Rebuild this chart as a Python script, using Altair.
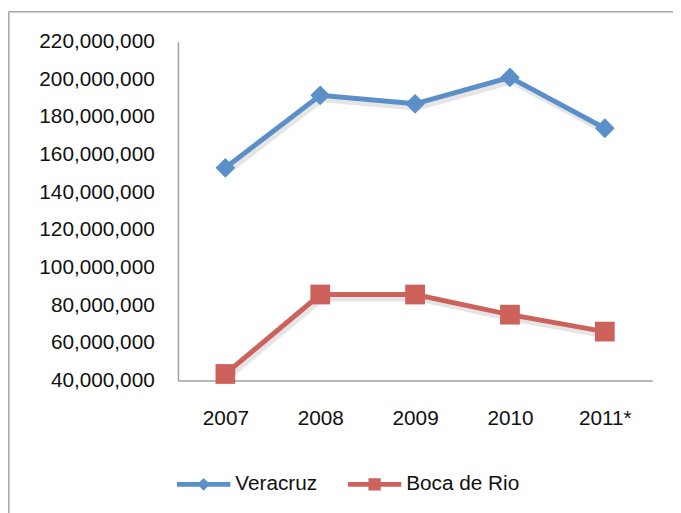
import altair as alt
import pandas as pd

years = ["2007", "2008", "2009", "2010", "2011*"]
veracruz = [153000000, 191500000, 187000000, 201000000, 174000000]
boca = [43500000, 85700000, 85700000, 75000000, 66000000]
series = ["Veracruz", "Boca de Rio"]
colors = ["#5b8fc8", "#cd625c"]
point_shapes = ["diamond", "square"]
legend_paths = [
    "M-1,-0.09L1,-0.09L1,0.09L-1,0.09Z M0,-0.24L0.24,0L0,0.24L-0.24,0Z",
    "M-1,-0.09L1,-0.09L1,0.09L-1,0.09Z M-0.23,-0.23L0.23,-0.23L0.23,0.23L-0.23,0.23Z",
]
y_ticks = [40000000 + 20000000 * i for i in range(10)]

rows = []
for name, vals in zip(series, [veracruz, boca]):
    for yr, v in zip(years, vals):
        rows.append({"year": yr, "value": v, "series": name})
df = pd.DataFrame(rows)

FONT = "Liberation Sans"
FS = 21

x_enc = alt.X(
    "year:N", sort=years, title=None,
    scale=alt.Scale(type="point", padding=0.5),
    axis=alt.Axis(domainColor="#a0a0a0", domainWidth=1.5, ticks=False, grid=False,
                  labelFont=FONT, labelFontSize=FS, labelColor="#111111",
                  labelPadding=27, labelAngle=0),
)
y_enc = alt.Y(
    "value:Q", title=None,
    scale=alt.Scale(domain=[40000000, 220000000], nice=False, zero=False),
    axis=alt.Axis(values=y_ticks, format=",.0f", domainColor="#a0a0a0", domainWidth=1.5,
                  ticks=False, grid=False, labelFont=FONT, labelFontSize=FS,
                  labelColor="#111111", labelPadding=24),
)
col_vis = alt.Color("series:N", scale=alt.Scale(domain=series, range=colors), legend=None)

base = alt.Chart(df)

shadow = base.mark_line(strokeWidth=6, color="#000000", opacity=0.1, xOffset=2, yOffset=4).encode(
    x=x_enc, y=y_enc, detail="series:N"
)
lines = base.mark_line(strokeWidth=5).encode(x=x_enc, y=y_enc, color=col_vis)
pts = base.mark_point(filled=True, opacity=1, size=400).encode(
    x=x_enc, y=y_enc, color=col_vis,
    shape=alt.Shape("series:N", scale=alt.Scale(domain=series, range=point_shapes), legend=None),
)

leg_props = dict(
    orient="none", legendX=-1, legendY=421, direction="horizontal", title=None,
    symbolSize=2916, symbolStrokeWidth=0, symbolOpacity=1,
    labelFont=FONT, labelFontSize=FS, labelColor="#111111", labelOffset=5,
    columnPadding=31,
)
legend_layer = base.mark_point(filled=True, opacity=1).encode(
    x=x_enc, y=y_enc,
    color=alt.Color("series:N", scale=alt.Scale(domain=series, range=colors),
                    legend=alt.Legend(**leg_props)),
    shape=alt.Shape("series:N", scale=alt.Scale(domain=series, range=legend_paths),
                    legend=alt.Legend(**leg_props)),
).transform_filter("false")

one = pd.DataFrame({"a": [0]})
border_v = alt.Chart(one).mark_rule(color="#a6a6a6", strokeWidth=1.5).encode(
    x=alt.value(-171.2), y=alt.value(-30.2), y2=alt.value(600)
)
border_h = alt.Chart(one).mark_rule(color="#a6a6a6", strokeWidth=1.5).encode(
    x=alt.value(-171.2), x2=alt.value(700), y=alt.value(-30.2)
)

chart = alt.layer(border_v, border_h, shadow, lines, pts, legend_layer).resolve_scale(
    color="independent", shape="independent"
).properties(
    width=480, height=343,
    background="white",
    autosize=alt.AutoSizeParams(type="none"),
    padding={"left": 172, "top": 31, "right": 21, "bottom": 131},
).configure_view(stroke=None)

chart.save("out.html", embed_options={"renderer": "svg", "actions": False})
